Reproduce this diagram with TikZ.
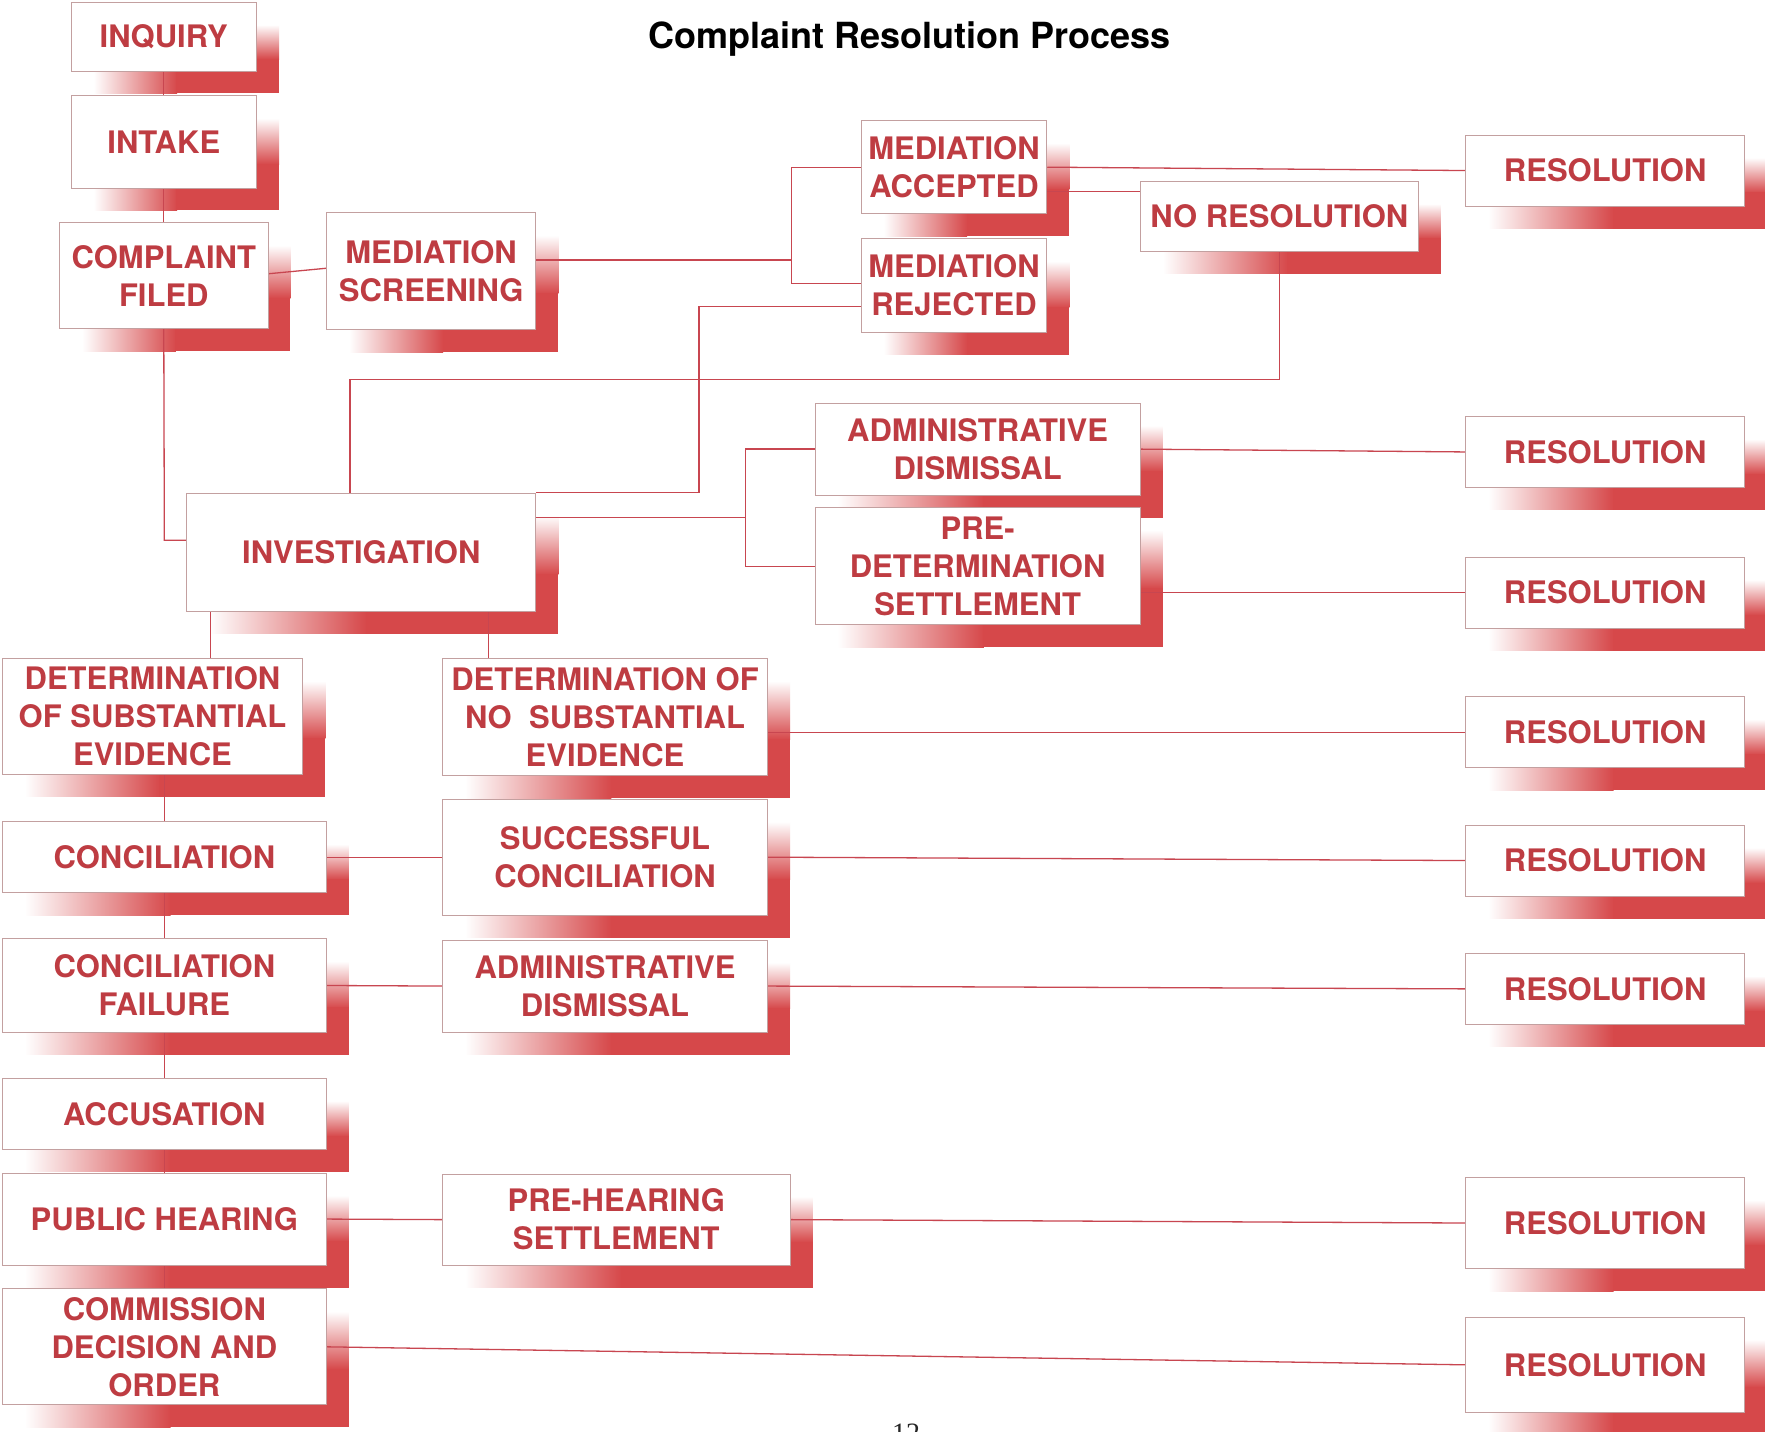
\documentclass[tikz,border=0pt]{standalone}
\usepackage{fontspec}
\setmainfont{TeX Gyre Heros}
\newfontfamily\seriffont{Liberation Serif}
\definecolor{txtred}{RGB}{190,60,66}
\definecolor{shred}{RGB}{214,72,74}
\definecolor{linered}{RGB}{200,70,80}
\definecolor{bordergray}{RGB}{195,160,160}
\pgfdeclarelayer{bg}
\pgfdeclarelayer{shadowlayer}
\pgfdeclarelayer{linelayer}
\pgfsetlayers{bg,shadowlayer,linelayer,main}
\tikzset{
  box/.style={draw=bordergray, line width=0.8pt, fill=white, text=txtred, align=center,
    inner sep=0pt, font=\fontsize{31}{38}\selectfont\bfseries},
  conn/.style={draw=linered, line width=1.3pt},
}
\newcommand\mkbox[6]{%
  \begin{pgfonlayer}{shadowlayer}
    \shade[left color=white, right color=shred] (#2+20,#5) rectangle ({#2+20+0.45*(#4-#2)},#5+20);
    \fill[shred] ({#2+20+0.45*(#4-#2)-0.5},#5) rectangle (#4+20,#5+20);
    \shade[top color=white, bottom color=shred] (#4,#3+20) rectangle (#4+20,{#3+20+0.5*(#5-#3)});
    \fill[shred] (#4,{#3+20+0.5*(#5-#3)-0.5}) rectangle (#4+20,#5);
  \end{pgfonlayer}
  \node[box, minimum width={(#4-#2)*1.1257pt}, minimum height={(#5-#3)*1.1257pt}] (#1) at ({(#2+#4)/2},{(#3+#5)/2}) {#6};
}
\begin{document}
\begin{tikzpicture}[x=1.1257pt, y=-1.1257pt]
\useasboundingbox (0,0) rectangle (1568,1272);
\begin{pgfonlayer}{bg}
  \fill[white] (0,0) rectangle (1568,1272);
\end{pgfonlayer}

\node[font=\fontsize{36}{40}\selectfont\bfseries, text=black] (title) at (808,35) {Complaint Resolution Process};

\mkbox{inquiry}{63}{2}{228}{63}{INQUIRY}
\mkbox{intake}{63}{85}{228}{167}{INTAKE}
\mkbox{filed}{53}{198}{238}{292}{COMPLAINT\\FILED}
\mkbox{screen}{290}{189}{476}{293}{MEDIATION\\SCREENING}
\mkbox{accepted}{765}{107}{930}{190}{MEDIATION\\ACCEPTED}
\mkbox{rejected}{765}{212}{930}{295}{MEDIATION\\REJECTED}
\mkbox{nores}{1013}{161}{1260}{223}{NO RESOLUTION}
\mkbox{res1}{1302}{120}{1550}{183}{RESOLUTION}
\mkbox{admin1}{724}{358}{1013}{440}{ADMINISTRATIVE\\DISMISSAL}
\mkbox{predet}{724}{451}{1013}{555}{PRE-\\DETERMINATION\\SETTLEMENT}
\mkbox{res2}{1302}{370}{1550}{433}{RESOLUTION}
\mkbox{res3}{1302}{495}{1550}{558}{RESOLUTION}
\mkbox{invest}{166}{438}{476}{543}{INVESTIGATION}
\mkbox{detyes}{2}{585}{269}{688}{DETERMINATION\\OF SUBSTANTIAL\\EVIDENCE}
\mkbox{detno}{393}{585}{682}{689}{DETERMINATION OF\\NO\ \ SUBSTANTIAL\\EVIDENCE}
\mkbox{res4}{1302}{619}{1550}{682}{RESOLUTION}
\mkbox{concil}{2}{730}{290}{793}{CONCILIATION}
\mkbox{succ}{393}{710}{682}{813}{SUCCESSFUL\\CONCILIATION}
\mkbox{res5}{1302}{733}{1550}{796}{RESOLUTION}
\mkbox{fail}{2}{834}{290}{917}{CONCILIATION\\FAILURE}
\mkbox{admin2}{393}{835}{682}{917}{ADMINISTRATIVE\\DISMISSAL}
\mkbox{res6}{1302}{847}{1550}{910}{RESOLUTION}
\mkbox{accus}{2}{958}{290}{1021}{ACCUSATION}
\mkbox{hearing}{2}{1042}{290}{1124}{PUBLIC HEARING}
\mkbox{prehear}{393}{1043}{702}{1124}{PRE-HEARING\\SETTLEMENT}
\mkbox{res7}{1302}{1046}{1550}{1127}{RESOLUTION}
\mkbox{commission}{2}{1145}{290}{1248}{COMMISSION\\DECISION AND\\ORDER}
\mkbox{res8}{1302}{1170}{1550}{1255}{RESOLUTION}

\node[font=\seriffont\fontsize{28}{30}\selectfont, text=black!85, anchor=north, inner sep=0pt] (pagenum) at (805,1265) {12};

\begin{pgfonlayer}{linelayer}
  \draw[conn] (inquiry) -- (intake);
  \draw[conn] (intake) -- (filed);
  \draw[conn] ([yshift=2pt]filed.east) -- ([yshift=3pt]screen.west);
  \coordinate (k1) at (146,480);
  \draw[conn] (filed.south) -- (k1) -- (k1 -| invest.west);
  \coordinate (k2) at (703,231);
  \coordinate (k3) at (703,149);
  \coordinate (k4) at (703,252);
  \draw[conn] (k2 -| screen.east) -- (k2);
  \draw[conn] (k3 -| accepted.west) -- (k3) -- (k4) -- (k4 -| rejected.west);
  \coordinate (k5) at (621,272);
  \draw[conn] (k5 -| rejected.west) -- (k5) -- (k5 |- invest.north) -- (invest.north east);
  \draw[conn] (accepted.east) -- (res1.west);
  \coordinate (k6) at (930,170);
  \draw[conn] (k6 -| accepted.east) -- (k6 -| nores.west);
  \coordinate (k8) at (311,337);
  \draw[conn] (nores.south) |- (k8) -- (k8 |- invest.north);
  \coordinate (k9) at (662,460);
  \draw[conn] (k9 -| invest.east) -- (k9);
  \draw[conn] (admin1.west) -- (admin1.west -| k9) -- (predet.west -| k9) -- (predet.west);
  \draw[conn] (admin1.east) -- (res2.west);
  \draw[conn] (res3.west -| predet.east) -- (res3.west);
  \coordinate (k11) at (187,563);
  \draw[conn] (k11 |- invest.south) -- (k11 |- detyes.north);
  \coordinate (k12) at (434,563);
  \draw[conn] (k12 |- invest.south) -- (k12 |- detno.north);
  \draw[conn] (res4.west -| detno.east) -- (res4.west);
  \draw[conn] (concil.north |- detyes.south) -- (concil.north);
  \draw[conn] (concil.east) -- (succ.west);
  \draw[conn] (succ.east) -- (res5.west);
  \draw[conn] (concil) -- (fail);
  \draw[conn] (fail.east) -- (admin2.west);
  \draw[conn] (admin2.east) -- (res6.west);
  \draw[conn] (fail) -- (accus);
  \draw[conn] (accus) -- (hearing);
  \draw[conn] (hearing) -- (commission);
  \draw[conn] (hearing.east) -- (prehear.west);
  \draw[conn] (prehear.east) -- (res7.west);
  \draw[conn] (commission.east) -- (res8.west);
\end{pgfonlayer}
\end{tikzpicture}
\end{document}
